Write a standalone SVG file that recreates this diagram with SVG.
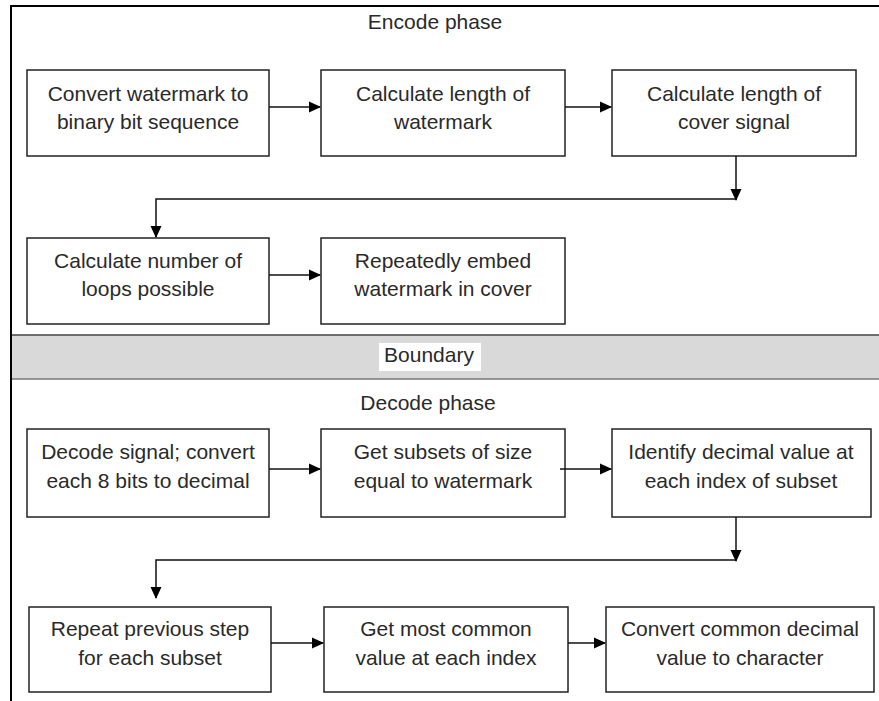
<svg xmlns="http://www.w3.org/2000/svg" width="879" height="701" viewBox="0 0 879 701">
<style>
.box{fill:#fff;stroke:#222;stroke-width:1.5}
.t{font-family:"Liberation Sans",Arial,sans-serif;font-size:21px;fill:#2a2a2a;text-anchor:middle}
.c{fill:none;stroke:#111;stroke-width:1.5}
</style>
<defs>
<marker id="ah" markerWidth="12" markerHeight="12" refX="11" refY="6" orient="auto" markerUnits="userSpaceOnUse">
<path d="M0,0.5 L12,6 L0,11.5 Z" fill="#000"/>
</marker>
</defs>
<rect x="0" y="0" width="879" height="701" fill="#fff"/>
<g id="frame">
<path d="M11,701 V6 H879" fill="none" stroke="#000" stroke-width="2"/>
</g>
<g id="boundary">
<rect x="12" y="335" width="867" height="44" fill="#d9d9d9"/>
<line x1="12" y1="335" x2="879" y2="335" stroke="#444" stroke-width="1.5"/>
<line x1="12" y1="379" x2="879" y2="379" stroke="#777" stroke-width="1.5"/>
<rect x="379" y="343" width="102" height="28" fill="#fff"/>
<text class="t" x="429" y="362">Boundary</text>
</g>
<g id="encode-title"><text class="t" x="435" y="29">Encode phase</text></g>
<g id="decode-title"><text class="t" x="428" y="410">Decode phase</text></g>

<g id="n1"><rect class="box" x="27" y="70" width="242" height="86"/><text class="t" x="148" y="101">Convert watermark to</text><text class="t" x="148" y="129">binary bit sequence</text></g>
<g id="n2"><rect class="box" x="321" y="70" width="244" height="86"/><text class="t" x="443" y="101">Calculate length of</text><text class="t" x="443" y="129">watermark</text></g>
<g id="n3"><rect class="box" x="612" y="70" width="244" height="86"/><text class="t" x="734" y="101">Calculate length of</text><text class="t" x="734" y="129">cover signal</text></g>
<g id="n4"><rect class="box" x="27" y="238" width="242" height="86"/><text class="t" x="148" y="268">Calculate number of</text><text class="t" x="148" y="296">loops possible</text></g>
<g id="n5"><rect class="box" x="321" y="238" width="244" height="86"/><text class="t" x="443" y="268">Repeatedly embed</text><text class="t" x="443" y="296">watermark in cover</text></g>

<g id="n6"><rect class="box" x="27" y="429" width="242" height="88"/><text class="t" x="148" y="459">Decode signal; convert</text><text class="t" x="148" y="488">each 8 bits to decimal</text></g>
<g id="n7"><rect class="box" x="321" y="429" width="244" height="88"/><text class="t" x="443" y="459">Get subsets of size</text><text class="t" x="443" y="488">equal to watermark</text></g>
<g id="n8"><rect class="box" x="612" y="429" width="259" height="88"/><text class="t" x="741" y="459">Identify decimal value at</text><text class="t" x="741" y="488">each index of subset</text></g>
<g id="n9"><rect class="box" x="29" y="607" width="242" height="85"/><text class="t" x="150" y="636">Repeat previous step</text><text class="t" x="150" y="665">for each subset</text></g>
<g id="n10"><rect class="box" x="324" y="607" width="244" height="85"/><text class="t" x="446" y="636">Get most common</text><text class="t" x="446" y="665">value at each index</text></g>
<g id="n11"><rect class="box" x="606" y="607" width="268" height="85"/><text class="t" x="740" y="636">Convert common decimal</text><text class="t" x="740" y="665">value to character</text></g>

<g id="connectors">
<line class="c" x1="269" y1="107" x2="320" y2="107" marker-end="url(#ah)"/>
<line class="c" x1="565" y1="107" x2="611" y2="107" marker-end="url(#ah)"/>
<line class="c" x1="736" y1="156" x2="736" y2="200" marker-end="url(#ah)"/>
<path class="c" d="M736,199 H156 V237" marker-end="url(#ah)"/>
<line class="c" x1="269" y1="275" x2="320" y2="275" marker-end="url(#ah)"/>

<line class="c" x1="269" y1="469" x2="320" y2="469" marker-end="url(#ah)"/>
<line class="c" x1="560" y1="469" x2="611" y2="469" marker-end="url(#ah)"/>
<line class="c" x1="736" y1="517" x2="736" y2="561" marker-end="url(#ah)"/>
<path class="c" d="M736,560 H156 V598" marker-end="url(#ah)"/>
<line class="c" x1="271" y1="643" x2="323" y2="643" marker-end="url(#ah)"/>
<line class="c" x1="568" y1="643" x2="605" y2="643" marker-end="url(#ah)"/>
</g>
</svg>
